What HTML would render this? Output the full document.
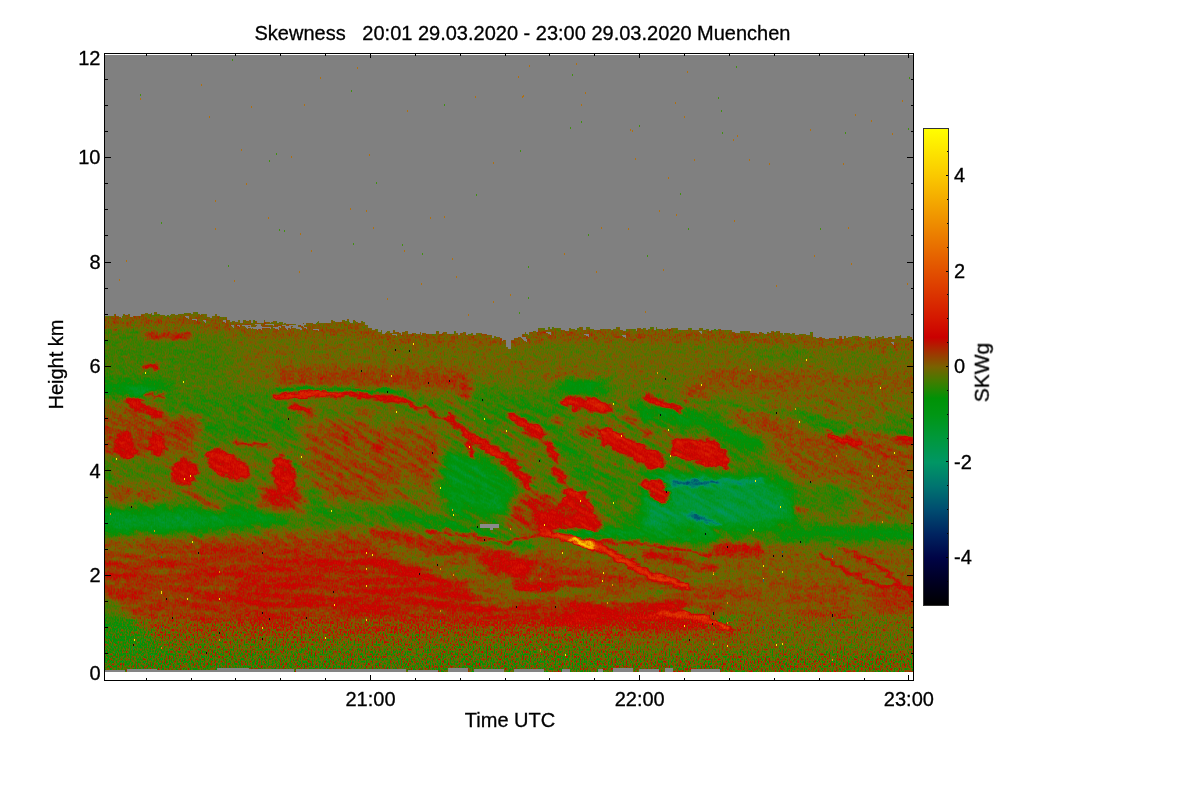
<!DOCTYPE html>
<html><head><meta charset="utf-8"><title>Skewness</title>
<style>
html,body{margin:0;padding:0;background:#fff;overflow:hidden}
svg{display:block}
text{font-family:"Liberation Sans",Arial,Helvetica,sans-serif;fill:#000;font-size:20px;stroke:#000;stroke-width:0.3px}
</style></head><body>
<svg width="1200" height="800" viewBox="0 0 1200 800">
<defs>
<linearGradient id="cb" x1="0" y1="1" x2="0" y2="0">
<stop offset="0.0000" stop-color="rgb(0,0,0)"/>
<stop offset="0.0500" stop-color="rgb(0,0,34)"/>
<stop offset="0.1000" stop-color="rgb(0,4,70)"/>
<stop offset="0.1500" stop-color="rgb(0,36,96)"/>
<stop offset="0.2000" stop-color="rgb(0,76,112)"/>
<stop offset="0.2500" stop-color="rgb(0,116,112)"/>
<stop offset="0.3000" stop-color="rgb(0,150,100)"/>
<stop offset="0.3500" stop-color="rgb(0,152,60)"/>
<stop offset="0.4000" stop-color="rgb(0,150,20)"/>
<stop offset="0.4340" stop-color="rgb(0,146,6)"/>
<stop offset="0.4700" stop-color="rgb(66,124,0)"/>
<stop offset="0.5000" stop-color="rgb(120,98,0)"/>
<stop offset="0.5300" stop-color="rgb(160,52,0)"/>
<stop offset="0.5620" stop-color="rgb(202,0,0)"/>
<stop offset="0.6000" stop-color="rgb(212,22,0)"/>
<stop offset="0.7000" stop-color="rgb(226,80,0)"/>
<stop offset="0.8000" stop-color="rgb(238,140,0)"/>
<stop offset="0.9000" stop-color="rgb(250,200,0)"/>
<stop offset="1.0000" stop-color="rgb(255,255,0)"/>
</linearGradient>
<clipPath id="dc"><rect x="105" y="55" width="808" height="617"/></clipPath>
<filter id="cm" x="60" y="40" width="900" height="660" filterUnits="userSpaceOnUse" color-interpolation-filters="sRGB">
<feColorMatrix in="SourceGraphic" type="matrix" values="1 0 0 0 0  1 0 0 0 0  1 0 0 0 0  0 0 0 0 1" result="F"/>
<feColorMatrix in="SourceGraphic" type="matrix" values="0 1 0 0 0  0 1 0 0 0  0 1 0 0 0  0 0 0 0 1" result="A"/>
<feColorMatrix in="SourceGraphic" type="matrix" values="0 0 1 0 0  0 0 1 0 0  0 0 1 0 0  0 0 0 0 1" result="M"/>
<feTurbulence type="fractalNoise" baseFrequency="0.72 0.41" numOctaves="1" seed="3" result="T"/>
<feColorMatrix in="T" type="matrix" values="1 0 0 0 0  1 0 0 0 0  1 0 0 0 0  0 0 0 0 1" result="N"/>
<feTurbulence type="fractalNoise" baseFrequency="0.09 0.16" numOctaves="2" seed="8" result="D"/>
<feDisplacementMap in="F" in2="D" scale="9" xChannelSelector="R" yChannelSelector="G" result="Fd"/>
<feComposite in="N" in2="A" operator="arithmetic" k1="1" k2="0" k3="0" k4="0" result="NA"/>
<feComposite in="Fd" in2="A" operator="arithmetic" k1="0" k2="1" k3="-0.5" k4="0" result="X"/>
<feComposite in="X" in2="NA" operator="arithmetic" k1="0" k2="1" k3="1" k4="0" result="X2"/>
<feComposite in="X2" in2="M" operator="arithmetic" k1="0" k2="1" k3="0.12" k4="-0.06" result="Y0"/>
<feTurbulence type="fractalNoise" baseFrequency="0.16 0.2" numOctaves="2" seed="21" result="D2"/>
<feColorMatrix in="D2" type="matrix" values="0 0 1 0 0  0 0 1 0 0  0 0 1 0 0  0 0 0 0 1" result="Dm"/>
<feComposite in="Y0" in2="Dm" operator="arithmetic" k1="0" k2="1" k3="0.055" k4="-0.0275" result="Y"/>
<feComponentTransfer in="Y">
<feFuncR type="table" tableValues="0.000 0.000 0.000 0.000 0.000 0.000 0.000 0.000 0.000 0.000 0.000 0.000 0.000 0.000 0.000 0.000 0.000 0.000 0.000 0.000 0.000 0.000 0.000 0.000 0.000 0.000 0.000 0.000 0.000 0.000 0.000 0.000 0.000 0.000 0.000 0.025 0.115 0.205 0.294 0.382 0.471 0.536 0.601 0.666 0.730 0.793 0.806 0.818 0.831 0.838 0.845 0.852 0.859 0.866 0.873 0.879 0.886 0.892 0.898 0.904 0.910 0.916 0.922 0.927 0.933 0.939 0.945 0.951 0.957 0.963 0.969 0.975 0.980 0.983 0.985 0.988 0.990 0.993 0.995 0.998 1.000"/>
<feFuncG type="table" tableValues="0.000 0.000 0.000 0.000 0.000 0.004 0.008 0.012 0.016 0.047 0.078 0.110 0.141 0.180 0.220 0.259 0.298 0.337 0.376 0.416 0.455 0.488 0.522 0.555 0.588 0.590 0.592 0.594 0.596 0.594 0.592 0.590 0.588 0.582 0.577 0.564 0.534 0.504 0.469 0.427 0.384 0.309 0.234 0.156 0.076 0.001 0.030 0.058 0.086 0.115 0.143 0.172 0.200 0.228 0.257 0.285 0.314 0.343 0.373 0.402 0.431 0.461 0.490 0.520 0.549 0.578 0.608 0.637 0.667 0.696 0.725 0.755 0.784 0.811 0.838 0.865 0.892 0.919 0.946 0.973 1.000"/>
<feFuncB type="table" tableValues="0.000 0.033 0.067 0.100 0.133 0.169 0.204 0.239 0.275 0.300 0.325 0.351 0.376 0.392 0.408 0.424 0.439 0.439 0.439 0.439 0.439 0.427 0.416 0.404 0.392 0.353 0.314 0.275 0.235 0.196 0.157 0.118 0.078 0.058 0.038 0.021 0.013 0.005 0.000 0.000 0.000 0.000 0.000 0.000 0.000 0.000 0.000 0.000 0.000 0.000 0.000 0.000 0.000 0.000 0.000 0.000 0.000 0.000 0.000 0.000 0.000 0.000 0.000 0.000 0.000 0.000 0.000 0.000 0.000 0.000 0.000 0.000 0.000 0.000 0.000 0.000 0.000 0.000 0.000 0.000 0.000"/>
</feComponentTransfer>
</filter>
<filter id="tn1" x="0" y="0" width="1" height="1" color-interpolation-filters="sRGB">
<feTurbulence type="fractalNoise" baseFrequency="0.035 0.22" numOctaves="2" seed="5"/>
<feColorMatrix type="matrix" values="0 0 0 0 0  0 0 0 0 0  1 0 0 0 0  0 0 0 0 1"/>
</filter>
<filter id="tn2" x="0" y="0" width="1" height="1" color-interpolation-filters="sRGB">
<feTurbulence type="fractalNoise" baseFrequency="0.02 0.16" numOctaves="2" seed="9"/>
<feColorMatrix type="matrix" values="0 0 0 0 0  0 0 0 0 0  1 0 0 0 0  0 0 0 0 1"/>
</filter>
<filter id="b1" color-interpolation-filters="sRGB"><feGaussianBlur stdDeviation="1.5"/></filter>
<filter id="b3" color-interpolation-filters="sRGB"><feGaussianBlur stdDeviation="3"/></filter>
<filter id="b6" color-interpolation-filters="sRGB"><feGaussianBlur stdDeviation="6"/></filter>
<filter id="b12" color-interpolation-filters="sRGB"><feGaussianBlur stdDeviation="12"/></filter>
<mask id="mz" maskUnits="userSpaceOnUse" x="60" y="300" width="900" height="400"><g filter="url(#b6)"><path d="M60 404 L400 398 L960 398 V545 H60 Z" fill="#888"/><path d="M178 400 L400 398 L440 398 L440 545 H178 Z" fill="#aaa"/><path d="M440 398 L700 398 L735 470 L740 545 H440 Z" fill="#fff"/></g></mask>
<mask id="lz" maskUnits="userSpaceOnUse" x="60" y="300" width="900" height="400"><g filter="url(#b6)"><path d="M60 545 H960 V635 H60 Z" fill="#777"/><path d="M60 545 H720 V635 H60 Z" fill="#fff"/></g></mask>
</defs>
<g clip-path="url(#dc)"><g filter="url(#cm)">
<g id="field">
<rect x="90" y="40" width="840" height="650" fill="rgb(128,0,0)"/>
<g filter="url(#b12)">
<rect x="40" y="280" width="940" height="440" fill="rgb(126,0,0)"/>
<path d="M500.0 300.0 L980.0 300.0 L980.0 362.0 L500.0 358.0 Z" fill="rgb(125,0,0)"/>
<path d="M40.0 328.0 L180.0 328.0 L238.0 346.0 L232.0 386.0 L40.0 386.0 Z" fill="rgb(119,0,0)"/>
<path d="M40.0 402.0 L175.0 402.0 L175.0 505.0 L40.0 505.0 Z" fill="rgb(129,0,0)"/>
<path d="M175.0 394.0 L380.0 392.0 L600.0 382.0 L700.0 394.0 L728.0 470.0 L740.0 542.0 L175.0 530.0 Z" fill="rgb(122,0,0)"/>
<path d="M728.0 396.0 L980.0 402.0 L980.0 530.0 L745.0 530.0 Z" fill="rgb(128,0,0)"/>
<path d="M40.0 540.0 L375.0 533.0 L500.0 548.0 L560.0 560.0 L640.0 576.0 L730.0 600.0 L752.0 634.0 L40.0 634.0 Z" fill="rgb(137,0,0)"/>
<path d="M40.0 540.0 L190.0 538.0 L200.0 634.0 L40.0 634.0 Z" fill="rgb(135,0,0)"/>
<path d="M715.0 546.0 L980.0 546.0 L980.0 622.0 L745.0 624.0 Z" fill="rgb(128,0,0)"/>
<path d="M40.0 642.0 L980.0 642.0 L980.0 720.0 L40.0 720.0 Z" fill="rgb(122,0,0)"/>
<path d="M600.0 640.0 L980.0 636.0 L980.0 720.0 L600.0 720.0 Z" fill="rgb(125,0,0)"/>
</g>
<g filter="url(#b6)">
<path d="M275.0 368.0 L470.0 370.0 L470.0 392.0 L400.0 388.0 L275.0 386.0 Z" fill="rgb(134,0,0)"/>
<path d="M705.0 368.0 L800.0 370.0 L800.0 392.0 L705.0 390.0 Z" fill="rgb(131,0,0)"/>
<path d="M800.0 378.0 L930.0 384.0" fill="none" stroke="rgb(131,0,0)" stroke-width="12.0" stroke-linecap="round" stroke-linejoin="round"/>
<ellipse cx="783.0" cy="355.0" rx="30.0" ry="10.0" fill="rgb(121,0,0)"/>
<ellipse cx="850.0" cy="368.0" rx="22.0" ry="7.0" fill="rgb(121,0,0)"/>
<ellipse cx="560.0" cy="343.0" rx="22.0" ry="8.0" fill="rgb(124,0,0)"/>
<ellipse cx="668.0" cy="380.0" rx="14.0" ry="6.0" fill="rgb(121,0,0)"/>
<path d="M40.0 388.0 L165.0 389.0" fill="none" stroke="rgb(105,0,0)" stroke-width="14.0" stroke-linecap="round" stroke-linejoin="round"/>
<path d="M165.0 393.0 L275.0 390.0 L300.0 412.0 L290.0 440.0 L185.0 440.0 L170.0 415.0 Z" fill="rgb(117,0,0)"/>
<path d="M40.0 418.0 L200.0 418.0 L200.0 452.0 L40.0 455.0 Z" fill="rgb(133,0,0)"/>
<path d="M40.0 458.0 L172.0 458.0 L172.0 498.0 L40.0 500.0 Z" fill="rgb(120,0,0)"/>
<ellipse cx="135.0" cy="495.0" rx="36.0" ry="9.0" fill="rgb(131,0,0)"/>
<ellipse cx="235.0" cy="490.0" rx="35.0" ry="9.0" fill="rgb(117,0,0)"/>
<path d="M258.0 485.0 L300.0 485.0 L307.0 515.0 L268.0 515.0 Z" fill="rgb(140,0,0)"/>
<ellipse cx="322.0" cy="488.0" rx="16.0" ry="26.0" fill="rgb(118,0,0)"/>
<ellipse cx="335.0" cy="503.0" rx="30.0" ry="15.0" fill="rgb(116,0,0)"/>
<path d="M305.0 418.0 L440.0 425.0 L450.0 505.0 L330.0 505.0 L305.0 470.0 Z" fill="rgb(131,0,0)"/>
<ellipse cx="415.0" cy="492.0" rx="34.0" ry="16.0" fill="rgb(128,0,0)"/>
<ellipse cx="440.0" cy="503.0" rx="50.0" ry="12.0" fill="rgb(126,0,0)"/>
<path d="M445.0 452.0 L475.0 455.0 L509.0 480.0 L520.0 515.0 L450.0 515.0 L440.0 480.0 Z" fill="rgb(102,0,0)"/>
<path d="M470.0 385.0 L510.0 392.0 L560.0 396.0 L562.0 420.0 L520.0 422.0 L480.0 432.0 Z" fill="rgb(116,0,0)"/>
<ellipse cx="582.0" cy="387.0" rx="28.0" ry="7.5" fill="rgb(102,0,0)"/>
<path d="M625.0 410.0 L680.0 416.0 L711.0 424.0 L760.0 446.0" fill="none" stroke="rgb(99,0,0)" stroke-width="11.0" stroke-linecap="round" stroke-linejoin="round"/>
<ellipse cx="697.0" cy="395.0" rx="16.0" ry="13.0" fill="rgb(133,0,0)"/>
<ellipse cx="765.0" cy="423.0" rx="36.0" ry="11.0" fill="rgb(132,0,0)"/>
<path d="M795.0 408.0 L837.0 428.0" fill="none" stroke="rgb(115,0,0)" stroke-width="8.0" stroke-linecap="round" stroke-linejoin="round"/>
<path d="M711.0 398.0 L760.0 402.0" fill="none" stroke="rgb(122,0,0)" stroke-width="10.0" stroke-linecap="round" stroke-linejoin="round"/>
<ellipse cx="895.0" cy="422.0" rx="24.0" ry="11.0" fill="rgb(118,0,0)"/>
<path d="M560.0 436.0 L600.0 480.0 L640.0 520.0" fill="none" stroke="rgb(116,0,0)" stroke-width="22.0" stroke-linecap="round" stroke-linejoin="round"/>
<path d="M645.0 472.0 L700.0 474.0 L795.0 480.0 L800.0 520.0 L711.0 542.0 L640.0 542.0 Z" fill="rgb(92,0,0)"/>
<ellipse cx="535.0" cy="512.0" rx="28.0" ry="18.0" fill="rgb(138,0,0)"/>
<path d="M711.0 442.0 L790.0 482.0" fill="none" stroke="rgb(116,0,0)" stroke-width="18.0" stroke-linecap="round" stroke-linejoin="round"/>
<path d="M770.0 430.0 L930.0 436.0 L930.0 500.0 L800.0 495.0 Z" fill="rgb(130,0,0)"/>
<ellipse cx="825.0" cy="500.0" rx="36.0" ry="18.0" fill="rgb(118,0,0)"/>
<path d="M640.0 540.0 L760.0 534.0 L980.0 530.0" fill="none" stroke="rgb(115,0,0)" stroke-width="15.0" stroke-linecap="round" stroke-linejoin="round"/>
<path d="M40.0 508.0 L185.0 508.0 L300.0 515.0 L300.0 521.0 L185.0 532.0 L40.0 534.0 Z" fill="rgb(97,0,0)"/>
<path d="M300.0 518.0 L400.0 515.0 L460.0 530.0 L509.0 545.0" fill="none" stroke="rgb(115,0,0)" stroke-width="12.0" stroke-linecap="round" stroke-linejoin="round"/>
<ellipse cx="125.0" cy="548.0" rx="40.0" ry="12.0" fill="rgb(131,0,0)"/>
<path d="M235.0 565.0 L375.0 562.0 L470.0 588.0 L470.0 615.0 L235.0 610.0 Z" fill="rgb(139,0,0)"/>
<path d="M40.0 596.0 L105.0 598.0 L128.0 612.0 L152.0 638.0 L175.0 660.0 L40.0 660.0 Z" fill="rgb(116,0,0)"/>
<path d="M388.0 552.0 L509.0 604.0" fill="none" stroke="rgb(127,0,0)" stroke-width="13.0" stroke-linecap="round" stroke-linejoin="round"/>
<path d="M442.0 552.0 L509.0 576.0 L560.0 595.0 L660.0 597.0" fill="none" stroke="rgb(126,0,0)" stroke-width="8.0" stroke-linecap="round" stroke-linejoin="round"/>
<path d="M366.0 554.0 L509.0 624.0" fill="none" stroke="rgb(142,0,0)" stroke-width="12.0" stroke-linecap="round" stroke-linejoin="round"/>
<path d="M568.0 603.0 L660.0 603.0 L700.0 612.0 L700.0 628.0 L568.0 628.0 Z" fill="rgb(145,0,0)"/>
<path d="M509.0 610.0 L568.0 606.0 L568.0 626.0 L509.0 626.0 Z" fill="rgb(140,0,0)"/>
<ellipse cx="895.0" cy="600.0" rx="30.0" ry="12.0" fill="rgb(136,0,0)"/>
</g>
<g filter="url(#b3)">
<path d="M40.0 322.0 L200.0 321.0 L232.0 328.0 L322.0 330.0 L362.0 329.0 L372.0 338.0 L480.0 340.0 L530.0 339.0 L540.0 336.0 L720.0 336.0 L812.0 341.0 L860.0 344.0 L960.0 345.0" fill="none" stroke="rgb(130,0,0)" stroke-width="11.0" stroke-linecap="round" stroke-linejoin="round"/>
<path d="M146.0 335.0 L189.0 336.0" fill="none" stroke="rgb(138,0,0)" stroke-width="6.0" stroke-linecap="round" stroke-linejoin="round"/>
<path d="M551.0 531.0 L640.0 534.0 L711.0 537.0" fill="none" stroke="rgb(97,0,0)" stroke-width="8.0" stroke-linecap="round" stroke-linejoin="round"/>
<ellipse cx="140.0" cy="391.0" rx="14.0" ry="4.0" fill="rgb(94,0,0)"/>
<path d="M545.0 378.0 L570.0 373.0 L600.0 376.0" fill="none" stroke="rgb(136,0,0)" stroke-width="4.0" stroke-linecap="round" stroke-linejoin="round"/>
<path d="M438.0 381.0 L467.0 381.0" fill="none" stroke="rgb(143,0,0)" stroke-width="2.0" stroke-linecap="round" stroke-linejoin="round"/>
<ellipse cx="465.0" cy="392.0" rx="6.0" ry="8.0" fill="rgb(138,0,0)"/>
<path d="M105.0 418.0 L200.0 418.0 L200.0 434.0 L105.0 434.0 Z" fill="rgb(133,0,0)"/>
<path d="M188.0 492.0 L220.0 508.0" fill="none" stroke="rgb(138,0,0)" stroke-width="7.0" stroke-linecap="round" stroke-linejoin="round"/>
<ellipse cx="379.0" cy="449.0" rx="6.0" ry="3.5" fill="rgb(145,0,0)"/>
<path d="M307.0 411.0 L314.0 412.0" fill="none" stroke="rgb(145,0,0)" stroke-width="6.0" stroke-linecap="round" stroke-linejoin="round"/>
<path d="M358.0 412.0 L372.0 412.0" fill="none" stroke="rgb(145,0,0)" stroke-width="4.0" stroke-linecap="round" stroke-linejoin="round"/>
<path d="M542.0 441.0 L553.0 458.0 L565.0 478.0" fill="none" stroke="rgb(143,0,0)" stroke-width="3.5" stroke-linecap="round" stroke-linejoin="round"/>
<ellipse cx="554.5" cy="421.0" rx="1.5" ry="4.0" fill="rgb(148,0,0)"/>
<ellipse cx="559.0" cy="421.0" rx="1.5" ry="4.0" fill="rgb(148,0,0)"/>
<ellipse cx="590.0" cy="432.0" rx="10.0" ry="4.0" fill="rgb(145,0,0)"/>
<path d="M620.0 400.0 L636.0 414.0" fill="none" stroke="rgb(138,0,0)" stroke-width="6.0" stroke-linecap="round" stroke-linejoin="round"/>
<path d="M620.0 417.0 L640.0 424.0" fill="none" stroke="rgb(144,0,0)" stroke-width="5.0" stroke-linecap="round" stroke-linejoin="round"/>
<ellipse cx="648.0" cy="432.0" rx="7.0" ry="4.0" fill="rgb(145,0,0)"/>
<path d="M857.0 436.0 L888.0 458.0" fill="none" stroke="rgb(145,0,0)" stroke-width="3.0" stroke-linecap="round" stroke-linejoin="round"/>
<ellipse cx="904.0" cy="439.0" rx="10.0" ry="5.0" fill="rgb(148,0,0)" transform="rotate(20.0 904.0 439.0)"/>
<ellipse cx="852.0" cy="431.0" rx="7.0" ry="3.0" fill="rgb(148,0,0)"/>
<ellipse cx="880.0" cy="431.0" rx="5.0" ry="3.0" fill="rgb(148,0,0)"/>
<ellipse cx="802.0" cy="510.0" rx="6.0" ry="5.0" fill="rgb(140,0,0)"/>
<path d="M775.0 525.0 L785.0 525.0" fill="none" stroke="rgb(145,0,0)" stroke-width="2.5" stroke-linecap="round" stroke-linejoin="round"/>
<path d="M711.0 543.0 L760.0 543.0 L760.0 556.0 L711.0 556.0 Z" fill="rgb(143,0,0)"/>
<path d="M785.0 534.0 L850.0 534.0 L930.0 536.0" fill="none" stroke="rgb(107,0,0)" stroke-width="11.0" stroke-linecap="round" stroke-linejoin="round"/>
<path d="M800.0 419.0 L826.0 425.0 L848.0 431.0" fill="none" stroke="rgb(105,0,0)" stroke-width="6.0" stroke-linecap="round" stroke-linejoin="round"/>
<path d="M375.0 546.0 L430.0 560.0 L476.0 576.0 L520.0 592.0 L560.0 598.0" fill="none" stroke="rgb(125,0,0)" stroke-width="9.0" stroke-linecap="round" stroke-linejoin="round"/>
<path d="M375.0 533.0 L440.0 545.0 L492.0 553.0" fill="none" stroke="rgb(143,0,0)" stroke-width="7.0" stroke-linecap="round" stroke-linejoin="round"/>
<ellipse cx="500.0" cy="562.0" rx="20.0" ry="11.0" fill="rgb(144,0,0)" transform="rotate(15.0 500.0 562.0)"/>
<path d="M375.0 560.0 L420.0 575.0 L465.0 592.0" fill="none" stroke="rgb(143,0,0)" stroke-width="10.0" stroke-linecap="round" stroke-linejoin="round"/>
<path d="M395.0 514.0 L440.0 523.0 L480.0 534.0 L530.0 546.0" fill="none" stroke="rgb(107,0,0)" stroke-width="8.0" stroke-linecap="round" stroke-linejoin="round"/>
<ellipse cx="519.0" cy="570.0" rx="11.0" ry="10.0" fill="rgb(145,0,0)"/>
<path d="M519.0 586.0 L556.0 586.0" fill="none" stroke="rgb(145,0,0)" stroke-width="10.0" stroke-linecap="round" stroke-linejoin="round"/>
<path d="M560.0 595.0 L660.0 595.0" fill="none" stroke="rgb(124,0,0)" stroke-width="8.0" stroke-linecap="round" stroke-linejoin="round"/>
<path d="M643.0 554.0 L711.0 567.0" fill="none" stroke="rgb(145,0,0)" stroke-width="7.0" stroke-linecap="round" stroke-linejoin="round"/>
<ellipse cx="700.0" cy="558.0" rx="12.0" ry="6.0" fill="rgb(118,0,0)"/>
<path d="M770.0 587.0 L850.0 587.0" fill="none" stroke="rgb(135,0,0)" stroke-width="6.0" stroke-linecap="round" stroke-linejoin="round"/>
<path d="M790.0 600.0 L850.0 600.0" fill="none" stroke="rgb(138,0,0)" stroke-width="5.0" stroke-linecap="round" stroke-linejoin="round"/>
<path d="M711.0 595.0 L760.0 595.0" fill="none" stroke="rgb(134,0,0)" stroke-width="8.0" stroke-linecap="round" stroke-linejoin="round"/>
<path d="M800.0 615.0 L850.0 615.0" fill="none" stroke="rgb(135,0,0)" stroke-width="7.0" stroke-linecap="round" stroke-linejoin="round"/>
<ellipse cx="725.0" cy="618.0" rx="16.0" ry="4.5" fill="rgb(115,0,0)"/>
<ellipse cx="695.0" cy="611.0" rx="14.0" ry="3.0" fill="rgb(116,0,0)"/>
<path d="M307.0 586.0 L380.0 586.0" fill="none" stroke="rgb(133,0,0)" stroke-width="3.0" stroke-linecap="round" stroke-linejoin="round"/>
</g>
<g filter="url(#b1)">
<ellipse cx="150.0" cy="366.5" rx="11.0" ry="3.2" fill="rgb(147,0,0)"/>
<path d="M146.0 335.0 L189.0 336.0" fill="none" stroke="rgb(138,0,0)" stroke-width="4.5" stroke-linecap="round" stroke-linejoin="round"/>
<ellipse cx="552.0" cy="452.0" rx="13.0" ry="4.0" fill="rgb(146,0,0)" transform="rotate(58.0 552.0 452.0)"/>
<ellipse cx="558.0" cy="474.0" rx="11.0" ry="4.5" fill="rgb(147,0,0)" transform="rotate(55.0 558.0 474.0)"/>
<path d="M829.0 435.0 L845.0 441.0 L858.0 443.0" fill="none" stroke="rgb(150,0,0)" stroke-width="6.0" stroke-linecap="round" stroke-linejoin="round"/>
<path d="M690.0 401.0 L760.0 409.0 L830.0 423.0 L915.0 433.0" fill="none" stroke="rgb(118,0,0)" stroke-width="6.0" stroke-linecap="round" stroke-linejoin="round"/>
<ellipse cx="125.0" cy="446.0" rx="10.0" ry="15.0" fill="rgb(145,0,0)" transform="rotate(-20.0 125.0 446.0)"/>
<ellipse cx="157.0" cy="444.0" rx="8.0" ry="12.0" fill="rgb(147,0,0)" transform="rotate(-10.0 157.0 444.0)"/>
<ellipse cx="184.0" cy="473.0" rx="14.0" ry="13.0" fill="rgb(148,0,0)" transform="rotate(15.0 184.0 473.0)"/>
<ellipse cx="228.0" cy="465.0" rx="24.0" ry="12.0" fill="rgb(149,0,0)" transform="rotate(28.0 228.0 465.0)"/>
<ellipse cx="284.0" cy="474.0" rx="11.0" ry="19.0" fill="rgb(148,0,0)" transform="rotate(-15.0 284.0 474.0)"/>
<path d="M235.0 444.0 L273.0 444.0" fill="none" stroke="rgb(150,0,0)" stroke-width="2.5" stroke-linecap="round" stroke-linejoin="round"/>
<ellipse cx="588.0" cy="405.0" rx="26.0" ry="7.0" fill="rgb(149,0,0)" transform="rotate(8.0 588.0 405.0)"/>
<path d="M514.0 416.0 L539.0 434.0" fill="none" stroke="rgb(149,0,0)" stroke-width="10.0" stroke-linecap="round" stroke-linejoin="round"/>
<path d="M607.0 436.0 L658.0 462.0" fill="none" stroke="rgb(149,0,0)" stroke-width="16.0" stroke-linecap="round" stroke-linejoin="round"/>
<path d="M671.0 440.0 L711.0 439.0 L730.0 452.0 L728.0 468.0 L700.0 464.0 L672.0 456.0 Z" fill="rgb(149,0,0)"/>
<ellipse cx="658.0" cy="491.0" rx="9.0" ry="14.0" fill="rgb(149,0,0)" transform="rotate(-35.0 658.0 491.0)"/>
<ellipse cx="648.0" cy="484.0" rx="7.0" ry="7.0" fill="rgb(149,0,0)"/>
<path d="M647.0 398.0 L679.0 409.0" fill="none" stroke="rgb(146,0,0)" stroke-width="7.5" stroke-linecap="round" stroke-linejoin="round"/>
<path d="M566.0 488.0 L585.0 491.0 L603.0 530.0 L540.0 530.0 L530.0 516.0 L560.0 506.0 Z" fill="rgb(146,0,0)"/>
<path d="M277.0 397.0 L307.0 394.0 L350.0 394.0 L400.0 400.0 L430.0 410.0 L452.0 422.0 L474.0 438.0" fill="none" stroke="rgb(149,0,0)" stroke-width="5.5" stroke-linecap="round" stroke-linejoin="round"/>
<path d="M277.0 397.0 L307.0 394.0 L340.0 393.0" fill="none" stroke="rgb(161,0,0)" stroke-width="4.5" stroke-linecap="round" stroke-linejoin="round"/>
<path d="M277.0 389.5 L307.0 388.5 L400.0 391.5" fill="none" stroke="rgb(97,0,0)" stroke-width="2.5" stroke-linecap="round" stroke-linejoin="round"/>
<path d="M400.0 393.0 L445.0 414.0" fill="none" stroke="rgb(115,0,0)" stroke-width="5.0" stroke-linecap="round" stroke-linejoin="round"/>
<path d="M474.0 438.0 L492.0 450.0 L509.0 461.0 L528.0 483.0" fill="none" stroke="rgb(149,0,0)" stroke-width="9.0" stroke-linecap="round" stroke-linejoin="round"/>
<path d="M450.0 415.0 L465.0 434.0 L472.0 455.0" fill="none" stroke="rgb(147,0,0)" stroke-width="4.0" stroke-linecap="round" stroke-linejoin="round"/>
<path d="M292.0 407.0 L307.0 411.0" fill="none" stroke="rgb(147,0,0)" stroke-width="6.0" stroke-linecap="round" stroke-linejoin="round"/>
<ellipse cx="137.0" cy="404.0" rx="12.0" ry="6.5" fill="rgb(147,0,0)" transform="rotate(28.0 137.0 404.0)"/>
<ellipse cx="153.0" cy="412.0" rx="10.0" ry="5.0" fill="rgb(146,0,0)" transform="rotate(30.0 153.0 412.0)"/>
<path d="M146.0 396.0 L165.0 396.0" fill="none" stroke="rgb(146,0,0)" stroke-width="3.5" stroke-linecap="round" stroke-linejoin="round"/>
<path d="M543.0 533.0 L573.0 539.0 L600.0 547.0 L652.0 576.0 L686.0 586.0" fill="none" stroke="rgb(166,0,0)" stroke-width="6.0" stroke-linecap="round" stroke-linejoin="round"/>
<path d="M573.0 540.0 L584.0 543.0 L593.0 547.0" fill="none" stroke="rgb(235,0,0)" stroke-width="5.0" stroke-linecap="round" stroke-linejoin="round"/>
<path d="M590.0 541.0 L640.0 543.0 L680.0 550.0 L711.0 555.0" fill="none" stroke="rgb(153,0,0)" stroke-width="2.5" stroke-linecap="round" stroke-linejoin="round"/>
<path d="M430.0 531.0 L470.0 536.0 L509.0 542.0 L543.0 534.0" fill="none" stroke="rgb(145,0,0)" stroke-width="3.5" stroke-linecap="round" stroke-linejoin="round"/>
<path d="M672.0 483.0 L700.0 483.0 L722.0 482.0" fill="none" stroke="rgb(56,0,0)" stroke-width="5.0" stroke-linecap="round" stroke-linejoin="round"/>
<path d="M722.0 482.0 L760.0 481.0" fill="none" stroke="rgb(79,0,0)" stroke-width="5.0" stroke-linecap="round" stroke-linejoin="round"/>
<path d="M690.0 516.0 L720.0 524.0" fill="none" stroke="rgb(51,0,0)" stroke-width="3.0" stroke-linecap="round" stroke-linejoin="round"/>
<ellipse cx="660.0" cy="495.0" rx="6.0" ry="8.0" fill="rgb(148,0,0)" transform="rotate(-20.0 660.0 495.0)"/>
<path d="M820.0 554.0 L846.0 571.0 L879.0 586.0 L913.0 588.0" fill="none" stroke="rgb(147,0,0)" stroke-width="3.2" stroke-linecap="round" stroke-linejoin="round"/>
<path d="M854.0 554.0 L879.0 566.0 L905.0 588.0 L916.0 598.0" fill="none" stroke="rgb(147,0,0)" stroke-width="3.0" stroke-linecap="round" stroke-linejoin="round"/>
<path d="M839.0 548.0 L860.0 556.0" fill="none" stroke="rgb(143,0,0)" stroke-width="3.0" stroke-linecap="round" stroke-linejoin="round"/>
<path d="M660.0 612.0 L700.0 618.0 L730.0 628.0" fill="none" stroke="rgb(166,0,0)" stroke-width="5.5" stroke-linecap="round" stroke-linejoin="round"/>
</g>
</g>
<g id="amp" style="mix-blend-mode:screen">
<rect x="60" y="40" width="900" height="660" fill="rgb(0,19,0)"/>
<g filter="url(#b6)">
<path d="M60 300 H960 V350 L640 342 L375 344 L200 330 L60 328 Z" fill="rgb(0,26,0)"/>
<path d="M60 622 L400 620 L700 628 L960 618 V700 H60 Z" fill="rgb(0,70,0)"/>
<path d="M60 652 H960 V700 H60 Z" fill="rgb(0,92,0)"/>
<path d="M620 615 H960 V654 H620 Z" fill="rgb(0,46,0)"/>
</g>
</g>
<g id="mid" style="mix-blend-mode:screen">
<rect x="60" y="40" width="900" height="660" fill="rgb(0,0,128)"/>
<g mask="url(#mz)"><rect x="-100" y="-100" width="1400" height="1100" transform="rotate(30 500 450)" filter="url(#tn1)" fill="#000"/></g>
<g mask="url(#lz)" opacity="0.6"><rect x="-100" y="-100" width="1400" height="1100" transform="rotate(3 500 580)" filter="url(#tn2)" fill="#000"/></g>
</g>
</g>
<path d="M105 55 H913 V339 V339 H912 V337 H910 V336 H907 V338 H904 V338 H901 V335 H900 V336 H897 V336 H895 V339 H892 V337 H888 V338 H884 V336 H882 V337 H878 V338 H876 V336 H875 V339 H871 V337 H869 V336 H865 V338 H862 V337 H861 V337 H859 V336 H855 V336 H853 V336 H852 V337 H850 V337 H848 V338 H846 V336 H844 V339 H842 V336 H839 V339 H836 V338 H833 V338 H829 V339 H825 V338 H822 V337 H819 V338 H816 V337 H813 V332 H810 V335 H806 V334 H802 V334 H799 V335 H798 V335 H795 V333 H792 V334 H790 V333 H786 V333 H784 V335 H783 V333 H781 V333 H780 V331 H776 V332 H774 V331 H771 V333 H769 V332 H767 V334 H764 V333 H762 V332 H759 V334 H757 V333 H754 V333 H751 V333 H750 V331 H746 V331 H743 V331 H740 V333 H737 V333 H736 V333 H735 V332 H732 V330 H729 V330 H726 V330 H724 V330 H721 V329 H718 V330 H716 V329 H714 V330 H711 V331 H709 V329 H706 V330 H703 V328 H699 V330 H697 V330 H694 V330 H692 V328 H688 V330 H685 V330 H681 V330 H678 V328 H675 V328 H671 V329 H668 V328 H667 V329 H666 V329 H665 V330 H663 V329 H660 V329 H657 V327 H656 V330 H654 V327 H650 V329 H648 V330 H646 V328 H643 V329 H641 V328 H637 V331 H636 V329 H632 V329 H629 V329 H626 V331 H623 V330 H620 V327 H616 V329 H613 V330 H611 V329 H607 V329 H606 V329 H602 V329 H600 V330 H597 V330 H594 V329 H592 V329 H590 V327 H586 V330 H583 V327 H579 V328 H577 V330 H575 V329 H571 V328 H569 V331 H565 V330 H561 V328 H558 V328 H554 V327 H552 V329 H550 V327 H548 V330 H545 V328 H541 V328 H538 V332 H536 V331 H533 V332 H529 V335 H528 V334 H526 V332 H525 V334 H522 V337 H518 V338 H514 V340 H511 V349 H508 V347 H506 V340 H503 V341 H502 V338 H500 V337 H496 V336 H494 V338 H492 V335 H490 V335 H487 V334 H484 V334 H482 V333 H478 V333 H476 V335 H473 V333 H471 V334 H468 V335 H466 V332 H463 V333 H460 V335 H458 V333 H456 V331 H454 V334 H450 V334 H447 V332 H443 V333 H442 V334 H441 V334 H439 V331 H436 V334 H435 V334 H432 V334 H429 V334 H426 V333 H423 V333 H422 V335 H421 V332 H420 V334 H419 V334 H416 V333 H412 V334 H411 V334 H408 V331 H405 V332 H402 V335 H401 V333 H399 V332 H395 V330 H393 V333 H390 V331 H389 V331 H387 V332 H386 V333 H385 V334 H382 V330 H381 V332 H379 V332 H378 V329 H375 V330 H372 V328 H368 V325 H365 V322 H363 V321 H361 V323 H358 V322 H356 V321 H355 V320 H353 V323 H350 V322 H349 V319 H347 V321 H345 V320 H342 V322 H338 V322 H335 V321 H333 V320 H331 V323 H329 V323 H326 V323 H324 V323 H322 V323 H319 V321 H318 V322 H317 V323 H316 V324 H313 V323 H309 V323 H306 V325 H304 V323 H302 V324 H300 V323 H298 V325 H296 V323 H294 V324 H291 V324 H289 V324 H286 V323 H284 V324 H283 V322 H279 V323 H277 V321 H276 V321 H273 V322 H271 V323 H270 V322 H267 V322 H265 V320 H264 V323 H260 V323 H257 V321 H255 V320 H253 V323 H251 V320 H249 V321 H246 V320 H243 V323 H240 V320 H238 V322 H235 V321 H232 V322 H230 V320 H227 V317 H226 V317 H222 V317 H220 V316 H217 V314 H215 V316 H214 V316 H212 V318 H210 V317 H207 V314 H204 V314 H201 V315 H200 V314 H198 V312 H194 V312 H193 V314 H191 V313 H188 V313 H185 V313 H184 V314 H181 V314 H179 V314 H178 V315 H175 V314 H171 V315 H170 V316 H169 V315 H167 V316 H165 V315 H163 V315 H160 V314 H157 V312 H154 V315 H152 V313 H151 V314 H148 V313 H145 V314 H141 V316 H137 V316 H134 V316 H133 V317 H130 V314 H128 V315 H125 V314 H123 V316 H119 V316 H116 V314 H114 V316 H111 V316 H108 V316 H105 Z" fill="#808080" shape-rendering="crispEdges"/>
<path d="M282 325 h3 v1 h-0 z M699 331 h2 v2 h-0 z M185 316 h3 v2 h-0 z M584 334 h4 v2 h-0 z M546 332 h4 v2 h-0 z M119 316 h2 v1 h-0 z M523 339 h3 v2 h-0 z M521 337 h4 v1 h-0 z M203 320 h2 v2 h-0 z M192 319 h4 v1 h-0 z M622 335 h3 v2 h-0 z M392 334 h4 v1 h-0 z M521 337 h3 v2 h-0 z M891 342 h2 v2 h-0 z M248 327 h3 v1 h-0 z M265 324 h8 v1 h-0 z M223 321 h2 v1 h-0 z M256 327 h5 v2 h-0 z M249 327 h8 v2 h-0 z M245 326 h2 v2 h-0 z M287 326 h3 v2 h-0 z M237 325 h2 v1 h-0 z M300 324 h3 v2 h-0 z M278 326 h2 v1 h-0 z M304 327 h2 v1 h-0 z M255 324 h5 v2 h-0 z M292 327 h8 v2 h-0 z M294 323 h8 v2 h-0 z M231 325 h2 v2 h-0 z M242 325 h8 v1 h-0 z M285 327 h2 v2 h-0 z M285 326 h5 v2 h-0 z M273 327 h5 v2 h-0 z M289 325 h8 v2 h-0 z M256 326 h5 v2 h-0 z M313 329 h5 v1 h-0 z M223 320 h2 v2 h-0 z M242 325 h8 v1 h-0 z M262 327 h8 v1 h-0 z M296 328 h5 v1 h-0 z" stroke="#808080" stroke-width="1" fill="#808080" shape-rendering="crispEdges"/>
<path d="M480 524 h19 v4 h-6 v2 h-3 v-2 h-10 z" fill="#8a8a8a" shape-rendering="crispEdges"/>
<path d="M105 670 h20 V672 h-20 zM127 669 h30 V672 h-30 zM157 670 h60 V672 h-60 zM217 668 h20 V672 h-20 zM237 668 h12 V672 h-12 zM249 669 h45 V672 h-45 zM296 669 h20 V672 h-20 zM316 669 h60 V672 h-60 zM376 669 h30 V672 h-30 zM408 670 h30 V672 h-30 zM448 668 h20 V672 h-20 zM474 669 h30 V672 h-30 zM514 669 h30 V672 h-30 zM562 669 h8 V672 h-8 zM598 669 h5 V672 h-5 zM613 668 h20 V672 h-20 zM639 669 h20 V672 h-20 zM665 668 h8 V672 h-8 zM691 669 h29 V672 h-29 z" fill="#848484" shape-rendering="crispEdges"/>
<path d="M755 480h1v2h-1zM878 465h1v2h-1zM301 456h1v2h-1zM621 435h1v2h-1zM806 359h1v2h-1zM750 369h1v2h-1zM116 458h1v2h-1zM372 554h1v2h-1zM134 639h1v2h-1zM145 372h1v2h-1zM334 604h1v2h-1zM391 375h1v2h-1zM880 387h1v2h-1zM799 421h1v2h-1zM670 455h1v2h-1zM753 529h1v2h-1zM602 580h1v2h-1zM469 446h1v2h-1zM453 514h1v2h-1zM613 403h1v2h-1zM183 381h1v2h-1zM565 654h1v2h-1zM894 452h1v2h-1zM562 552h1v2h-1zM872 475h1v2h-1zM506 430h1v2h-1zM484 418h1v2h-1zM776 644h1v2h-1zM440 487h1v2h-1zM668 429h1v2h-1zM544 524h1v2h-1zM701 384h1v2h-1zM580 500h1v2h-1zM187 598h1v2h-1zM192 541h1v2h-1zM684 625h1v2h-1zM603 572h1v2h-1zM413 343h1v2h-1zM184 478h1v2h-1zM325 637h1v2h-1zM190 475h1v2h-1zM613 502h1v2h-1zM396 411h1v2h-1zM331 510h1v2h-1zM780 506h1v2h-1z" fill="#ffee00" shape-rendering="crispEdges"/>
<path d="M482 399h1v2h-1zM437 564h1v2h-1zM689 639h1v2h-1zM810 481h1v2h-1zM555 606h1v2h-1zM419 573h1v2h-1zM432 452h1v2h-1zM516 606h1v2h-1zM361 370h1v2h-1zM477 526h1v2h-1zM131 506h1v2h-1zM800 541h1v2h-1zM705 533h1v2h-1zM306 617h1v2h-1zM484 539h1v2h-1zM660 414h1v2h-1zM712 623h1v2h-1zM288 418h1v2h-1zM198 552h1v2h-1zM395 349h1v2h-1zM333 591h1v2h-1zM166 598h1v2h-1zM269 618h1v2h-1zM409 350h1v2h-1zM773 555h1v2h-1zM172 617h1v2h-1zM666 491h1v2h-1zM665 378h1v2h-1zM449 380h1v2h-1zM387 391h1v2h-1zM428 382h1v2h-1zM133 644h1v2h-1zM776 412h1v2h-1zM206 652h1v2h-1zM539 460h1v2h-1z" fill="#050510" shape-rendering="crispEdges"/>
<path d="M836 455h1v2h-1zM607 602h1v2h-1zM453 574h1v2h-1zM510 528h1v2h-1zM452 509h1v2h-1zM795 408h1v2h-1zM612 584h1v2h-1zM657 372h1v2h-1zM832 659h1v2h-1zM154 530h1v2h-1zM882 521h1v2h-1zM110 513h1v2h-1z" fill="#f09000" shape-rendering="crispEdges"/>
<path d="M161 556h1v2h-1z" fill="#107070" shape-rendering="crispEdges"/>
<path d="M161 626h1v2h-1z" fill="#107070" shape-rendering="crispEdges"/>
<path d="M161 591h1v3h-1z" fill="#ffe000" shape-rendering="crispEdges"/>
<path d="M161 647h1v2h-1z" fill="#f08000" shape-rendering="crispEdges"/>
<path d="M219 598h1v2h-1z" fill="#ffe000" shape-rendering="crispEdges"/>
<path d="M219 639h1v2h-1z" fill="#f08000" shape-rendering="crispEdges"/>
<path d="M219 632h1v2h-1z" fill="#000018" shape-rendering="crispEdges"/>
<path d="M219 571h1v2h-1z" fill="#f08000" shape-rendering="crispEdges"/>
<path d="M262 612h1v2h-1z" fill="#000018" shape-rendering="crispEdges"/>
<path d="M262 552h1v2h-1z" fill="#000018" shape-rendering="crispEdges"/>
<path d="M262 638h1v2h-1z" fill="#000018" shape-rendering="crispEdges"/>
<path d="M262 627h1v2h-1z" fill="#ffe000" shape-rendering="crispEdges"/>
<path d="M366 552h1v2h-1z" fill="#ffe000" shape-rendering="crispEdges"/>
<path d="M366 619h1v2h-1z" fill="#ffe000" shape-rendering="crispEdges"/>
<path d="M366 585h1v2h-1z" fill="#ffe000" shape-rendering="crispEdges"/>
<path d="M366 568h1v2h-1z" fill="#ffe000" shape-rendering="crispEdges"/>
<path d="M440 620h1v2h-1z" fill="#107070" shape-rendering="crispEdges"/>
<path d="M440 636h1v2h-1z" fill="#107070" shape-rendering="crispEdges"/>
<path d="M440 610h1v2h-1z" fill="#f08000" shape-rendering="crispEdges"/>
<path d="M440 568h1v2h-1z" fill="#f08000" shape-rendering="crispEdges"/>
<path d="M540 567h1v2h-1z" fill="#107070" shape-rendering="crispEdges"/>
<path d="M540 649h1v3h-1z" fill="#f08000" shape-rendering="crispEdges"/>
<path d="M540 578h1v2h-1z" fill="#f08000" shape-rendering="crispEdges"/>
<path d="M540 588h1v3h-1z" fill="#107070" shape-rendering="crispEdges"/>
<path d="M713 643h1v2h-1z" fill="#f08000" shape-rendering="crispEdges"/>
<path d="M713 573h1v2h-1z" fill="#ffe000" shape-rendering="crispEdges"/>
<path d="M713 572h1v2h-1z" fill="#f08000" shape-rendering="crispEdges"/>
<path d="M713 612h1v3h-1z" fill="#000018" shape-rendering="crispEdges"/>
<path d="M727 645h1v2h-1z" fill="#ffe000" shape-rendering="crispEdges"/>
<path d="M727 546h1v2h-1z" fill="#000018" shape-rendering="crispEdges"/>
<path d="M727 602h1v2h-1z" fill="#f08000" shape-rendering="crispEdges"/>
<path d="M727 622h1v2h-1z" fill="#f08000" shape-rendering="crispEdges"/>
<path d="M763 565h1v2h-1z" fill="#ffe000" shape-rendering="crispEdges"/>
<path d="M763 578h1v3h-1z" fill="#ffe000" shape-rendering="crispEdges"/>
<path d="M763 626h1v3h-1z" fill="#107070" shape-rendering="crispEdges"/>
<path d="M763 579h1v3h-1z" fill="#107070" shape-rendering="crispEdges"/>
<path d="M782 551h1v2h-1z" fill="#107070" shape-rendering="crispEdges"/>
<path d="M782 643h1v2h-1z" fill="#ffe000" shape-rendering="crispEdges"/>
<path d="M782 571h1v2h-1z" fill="#ffe000" shape-rendering="crispEdges"/>
<path d="M782 555h1v2h-1z" fill="#000018" shape-rendering="crispEdges"/>
<path d="M832 623h1v3h-1z" fill="#107070" shape-rendering="crispEdges"/>
<path d="M832 557h1v2h-1z" fill="#f08000" shape-rendering="crispEdges"/>
<path d="M832 555h1v3h-1z" fill="#107070" shape-rendering="crispEdges"/>
<path d="M832 614h1v3h-1z" fill="#000018" shape-rendering="crispEdges"/>
<path d="M126 260h1v2h-1zM299 271h1v2h-1zM304 104h1v2h-1zM907 283h1v2h-1zM320 77h1v2h-1zM663 269h1v2h-1zM645 311h1v2h-1zM268 217h1v2h-1zM430 217h1v2h-1zM522 96h1v2h-1zM676 214h1v2h-1zM585 92h1v2h-1zM475 96h1v2h-1zM810 129h1v2h-1zM215 228h1v2h-1zM510 294h1v2h-1zM871 120h1v2h-1zM776 285h1v2h-1zM119 279h1v2h-1zM493 301h1v2h-1zM350 208h1v2h-1zM684 116h1v2h-1zM576 63h1v2h-1zM843 163h1v2h-1zM737 135h1v2h-1zM404 250h1v2h-1zM659 210h1v2h-1zM452 258h1v2h-1zM675 102h1v2h-1zM369 154h1v2h-1zM311 250h1v2h-1zM855 114h1v2h-1zM444 216h1v2h-1zM387 298h1v2h-1zM848 227h1v2h-1zM564 253h1v2h-1zM201 84h1v2h-1zM251 106h1v2h-1zM241 149h1v2h-1zM291 156h1v2h-1zM518 76h1v2h-1zM581 104h1v2h-1zM209 116h1v2h-1zM140 98h1v2h-1zM234 280h1v2h-1zM523 95h1v2h-1zM456 276h1v2h-1zM630 129h1v2h-1zM769 163h1v2h-1zM892 133h1v2h-1zM814 255h1v2h-1zM601 227h1v2h-1zM529 65h1v2h-1zM851 263h1v2h-1zM734 220h1v2h-1zM357 67h1v2h-1zM373 227h1v2h-1zM300 233h1v2h-1zM421 283h1v2h-1zM215 200h1v2h-1zM493 162h1v2h-1zM628 228h1v2h-1zM407 110h1v2h-1zM733 139h1v2h-1zM366 210h1v2h-1zM668 177h1v2h-1zM468 314h1v2h-1zM632 130h1v2h-1zM694 159h1v2h-1zM635 158h1v2h-1zM687 71h1v2h-1zM749 159h1v2h-1zM902 100h1v2h-1zM246 183h1v2h-1zM596 271h1v2h-1z" fill="#b07010" shape-rendering="crispEdges"/>
<path d="M820 228h1v2h-1zM444 104h1v2h-1zM476 194h1v2h-1zM581 121h1v2h-1zM570 127h1v2h-1zM351 90h1v2h-1zM680 193h1v2h-1zM279 229h1v2h-1zM722 132h1v2h-1zM232 59h1v2h-1zM402 244h1v2h-1zM353 243h1v2h-1zM276 153h1v2h-1zM718 97h1v2h-1zM572 74h1v2h-1zM520 150h1v2h-1zM908 128h1v2h-1zM422 253h1v2h-1zM736 66h1v2h-1zM269 160h1v2h-1zM528 297h1v2h-1zM140 94h1v2h-1zM647 255h1v2h-1zM228 265h1v2h-1zM284 230h1v2h-1zM639 125h1v2h-1zM376 182h1v2h-1zM688 228h1v2h-1zM161 222h1v2h-1zM909 77h1v2h-1zM845 132h1v2h-1zM519 312h1v2h-1zM721 110h1v2h-1zM588 234h1v2h-1zM528 266h1v2h-1z" fill="#409010" shape-rendering="crispEdges"/>
</g>
<g stroke="#000" stroke-width="1" fill="none" shape-rendering="crispEdges">
<rect x="104.5" y="53.5" width="809" height="627"/>
<path d="M146.5 53 v3 M146.5 681 v-3 M191.5 53 v3 M191.5 681 v-3 M235.5 53 v3 M235.5 681 v-3 M280.5 53 v3 M280.5 681 v-3 M325.5 53 v3 M325.5 681 v-3 M370.5 53 v5 M370.5 681 v-6 M415.5 53 v3 M415.5 681 v-3 M460.5 53 v3 M460.5 681 v-3 M505.5 53 v3 M505.5 681 v-3 M549.5 53 v3 M549.5 681 v-3 M594.5 53 v3 M594.5 681 v-3 M639.5 53 v5 M639.5 681 v-6 M684.5 53 v3 M684.5 681 v-3 M729.5 53 v3 M729.5 681 v-3 M774.5 53 v3 M774.5 681 v-3 M819.5 53 v3 M819.5 681 v-3 M864.5 53 v3 M864.5 681 v-3 M908.5 53 v5 M908.5 681 v-6 M104 653.5 h4 M914 653.5 h-3 M104 627.5 h4 M914 627.5 h-3 M104 601.5 h4 M914 601.5 h-3 M104 575.5 h7 M914 575.5 h-7 M104 549.5 h4 M914 549.5 h-3 M104 523.5 h4 M914 523.5 h-3 M104 497.5 h4 M914 497.5 h-3 M104 470.5 h7 M914 470.5 h-7 M104 444.5 h4 M914 444.5 h-3 M104 418.5 h4 M914 418.5 h-3 M104 392.5 h4 M914 392.5 h-3 M104 366.5 h7 M914 366.5 h-7 M104 340.5 h4 M914 340.5 h-3 M104 314.5 h4 M914 314.5 h-3 M104 288.5 h4 M914 288.5 h-3 M104 262.5 h7 M914 262.5 h-7 M104 235.5 h4 M914 235.5 h-3 M104 209.5 h4 M914 209.5 h-3 M104 183.5 h4 M914 183.5 h-3 M104 157.5 h7 M914 157.5 h-7 M104 131.5 h4 M914 131.5 h-3 M104 105.5 h4 M914 105.5 h-3 M104 79.5 h4 M914 79.5 h-3"/>
</g>
<rect x="923.5" y="128.5" width="25" height="477" fill="url(#cb)" stroke="#333" stroke-width="1"/>
<path d="M948 581.5 h-1 M948 557.5 h-2 M948 533.5 h-1 M948 509.5 h-1 M948 485.5 h-1 M948 461.5 h-2 M948 438.5 h-1 M948 414.5 h-1 M948 390.5 h-1 M948 366.5 h-2 M948 342.5 h-1 M948 318.5 h-1 M948 294.5 h-1 M948 271.5 h-2 M948 247.5 h-1 M948 223.5 h-1 M948 199.5 h-1 M948 175.5 h-2 M948 151.5 h-1" stroke="#000" stroke-width="1" shape-rendering="crispEdges"/>
<text x="954" y="182.0">4</text>
<text x="954" y="277.5">2</text>
<text x="954" y="373.0">0</text>
<text x="954" y="468.5">-2</text>
<text x="954" y="564.0">-4</text>
<text transform="translate(988.8,372.5) rotate(-90)" text-anchor="middle" style="font-size:21px">SKWg</text>
<text x="522.5" y="39.5" text-anchor="middle" style="white-space:pre">Skewness   20:01 29.03.2020 - 23:00 29.03.2020 Muenchen</text>
<text x="100.5" y="680.0" text-anchor="end">0</text>
<text x="100.5" y="582.2" text-anchor="end">2</text>
<text x="100.5" y="477.7" text-anchor="end">4</text>
<text x="100.5" y="373.2" text-anchor="end">6</text>
<text x="100.5" y="268.7" text-anchor="end">8</text>
<text x="100.5" y="164.2" text-anchor="end">10</text>
<text x="100.5" y="65.0" text-anchor="end">12</text>
<text x="370.5" y="705.5" text-anchor="middle">21:00</text>
<text x="639.7" y="705.5" text-anchor="middle">22:00</text>
<text x="908.9" y="705.5" text-anchor="middle">23:00</text>
<text x="510" y="727" text-anchor="middle">Time UTC</text>
<text transform="translate(62.5,364.5) rotate(-90)" text-anchor="middle">Height km</text>
</svg></body></html>
